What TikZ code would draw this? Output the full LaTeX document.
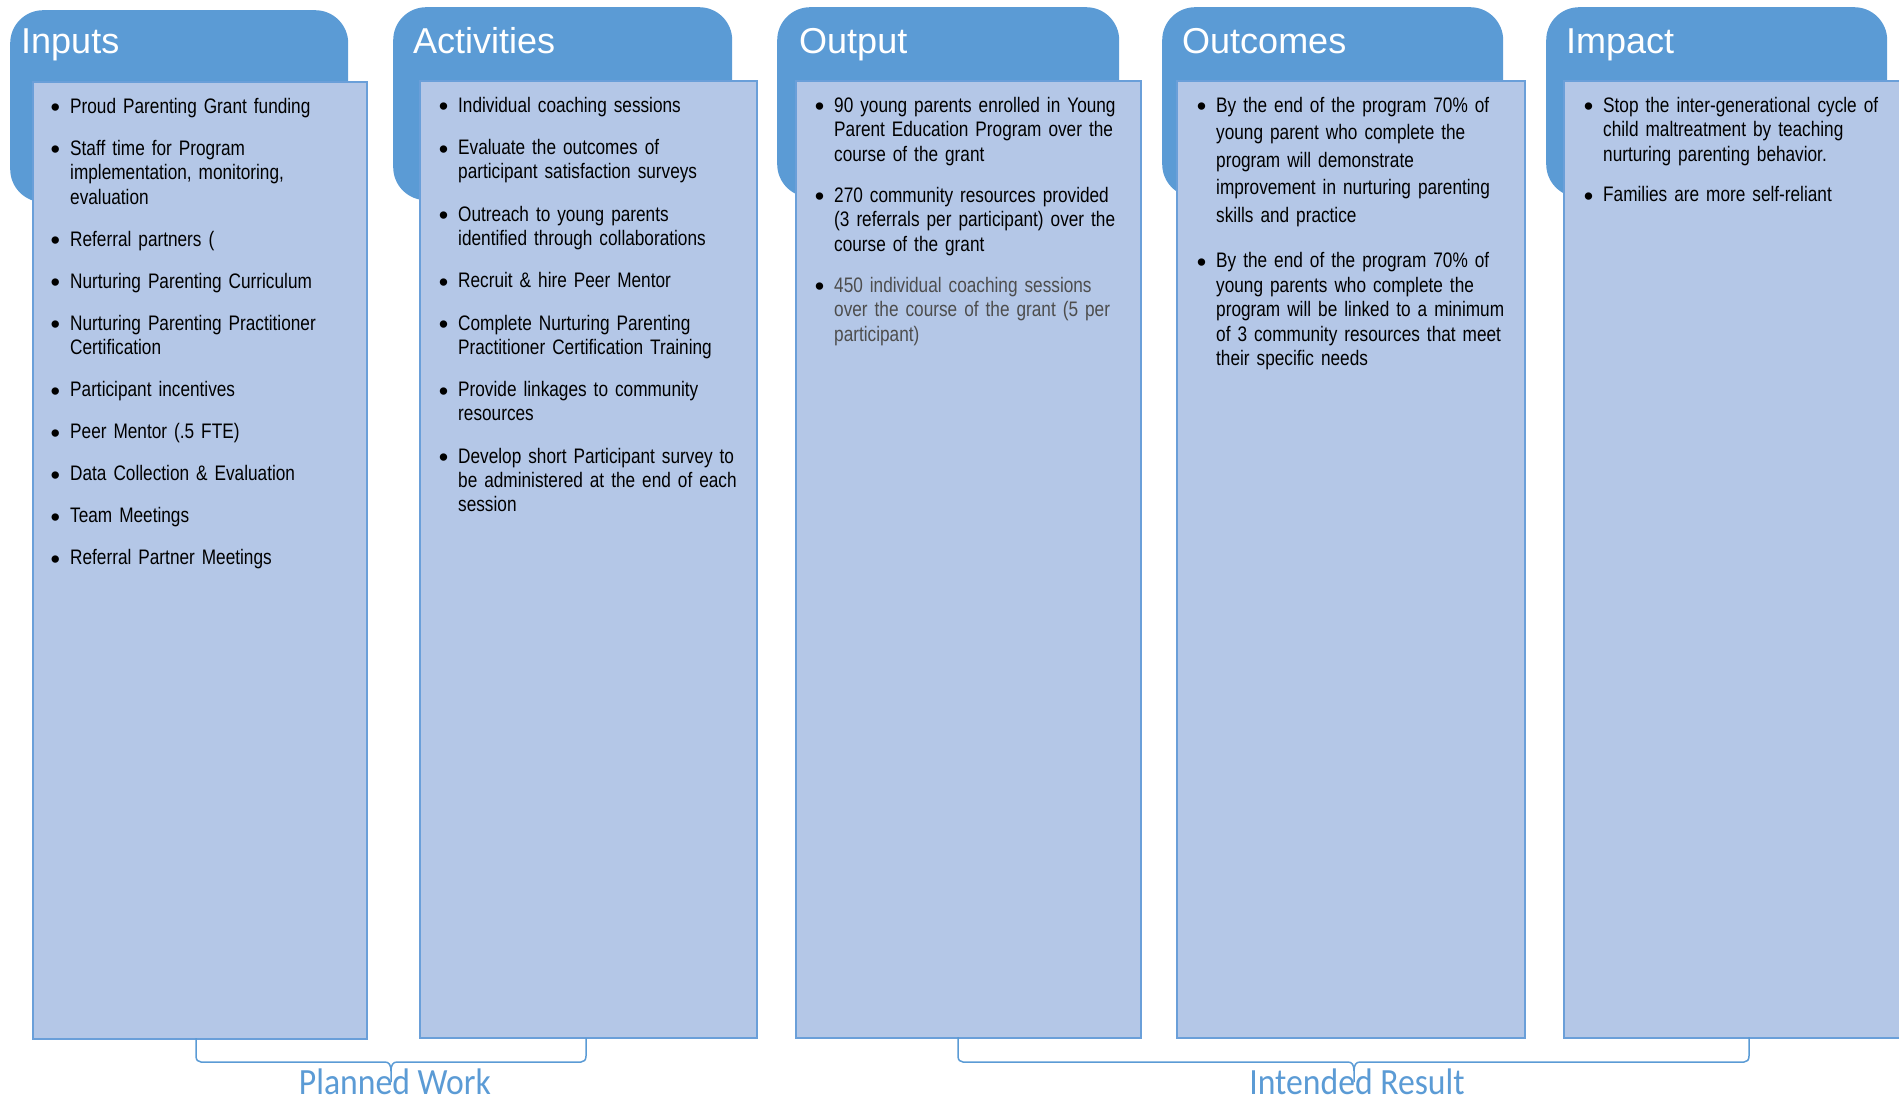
\documentclass[tikz,border=0pt]{standalone}
\usepackage{fontspec}
\newfontfamily\bodyfont[FakeStretch=0.82,WordSpace=0.7]{Liberation Sans}
\newfontfamily\titlefont{Liberation Sans}
\newfontfamily\bulletfont{Liberation Sans}
\newfontfamily\labelfont[FakeStretch=0.91]{Carlito}
\definecolor{hdrblue}{HTML}{5B9BD5}
\definecolor{boxfill}{HTML}{B4C7E7}
\definecolor{boxline}{HTML}{6A9FD9}
\definecolor{graytext}{HTML}{4D4D4D}
\newcommand{\bitem}[2][24.5pt]{{\fontsize{21pt}{#1}\selectfont\noindent\llap{\raisebox{-3.5pt}{\bulletfont\fontsize{27pt}{27pt}\selectfont\textbullet}\hspace{10pt}}#2\par}}
\newcommand{\firststrut}{\rule{0pt}{18pt}}
\tikzset{
  hdr/.style={fill=hdrblue, rounded corners=33pt, anchor=north west, inner sep=0pt},
  cbox/.style={fill=boxfill, draw=boxline, line width=1.5pt, anchor=north west, inner sep=0pt},
  title/.style={anchor=base west, inner sep=0pt, text=white, font=\titlefont\fontsize{36pt}{40pt}\selectfont},
  body/.style={anchor=north west, inner sep=0pt, text width=340pt, align=left, font=\bodyfont\fontsize{21pt}{24.5pt}\selectfont},
  bracel/.style={draw=hdrblue, line width=1.5pt},
  lbl/.style={anchor=base, inner sep=0pt, text depth=0pt, text=hdrblue, font=\labelfont\fontsize{37pt}{40pt}\selectfont}
}
\begin{document}
\begin{tikzpicture}[x=1pt, y=-1pt]
\useasboundingbox (0,0) rectangle (1899,1103);
% headers
\node[hdr, minimum width=338pt, minimum height=192pt] (h1) at (10,10) {};
\node[hdr, minimum width=339pt, minimum height=193pt] (h2) at (393,7) {};
\node[hdr, minimum width=342pt, minimum height=190pt] (h3) at (777,7) {};
\node[hdr, minimum width=341pt, minimum height=190pt] (h4) at (1162,7) {};
\node[hdr, minimum width=341pt, minimum height=190pt] (h5) at (1546,7) {};
% content boxes
\node[cbox, minimum width=334pt, minimum height=957pt] (b1) at (32,81) {};
\node[cbox, minimum width=337pt, minimum height=957pt] (b2) at (419,80) {};
\node[cbox, minimum width=345pt, minimum height=957pt] (b3) at (795,80) {};
\node[cbox, minimum width=348pt, minimum height=957pt] (b4) at (1176,80) {};
\node[cbox, minimum width=360pt, minimum height=957pt] (b5) at (1563,80) {};
% titles
\node[title] (t1) at (21,53) {Inputs};
\node[title] (t2) at (413,53) {Activities};
\node[title] (t3) at (799,53) {Output};
\node[title] (t4) at (1182,53) {Outcomes};
\node[title] (t5) at (1566,53) {Impact};
% body texts
\node[body] (x1) at (70,95) {%
\bitem{\firststrut Proud Parenting Grant funding}\vspace{17.5pt}
\bitem{Staff time for Program\\implementation, monitoring,\\evaluation}\vspace{17.5pt}
\bitem{Referral partners (}\vspace{17.5pt}
\bitem{Nurturing Parenting Curriculum}\vspace{17.5pt}
\bitem{Nurturing Parenting Practitioner\\Certification}\vspace{17.5pt}
\bitem{Participant incentives}\vspace{17.5pt}
\bitem{Peer Mentor (.5 FTE)}\vspace{17.5pt}
\bitem{Data Collection \& Evaluation}\vspace{17.5pt}
\bitem{Team Meetings}\vspace{17.5pt}
\bitem{Referral Partner Meetings}};
\node[body] (x2) at (458,94) {%
\bitem[24pt]{\firststrut Individual coaching sessions}\vspace{18.5pt}
\bitem[24pt]{Evaluate the outcomes of\\participant satisfaction surveys}\vspace{18.5pt}
\bitem[24pt]{Outreach to young parents\\identified through collaborations}\vspace{18.5pt}
\bitem[24pt]{Recruit \& hire Peer Mentor}\vspace{18.5pt}
\bitem[24pt]{Complete Nurturing Parenting\\Practitioner Certification Training}\vspace{18.5pt}
\bitem[24pt]{Provide linkages to community\\resources}\vspace{18.5pt}
\bitem[24pt]{Develop short Participant survey to\\be administered at the end of each\\session}};
\node[body] (x3) at (834,94) {%
\bitem{\firststrut 90 young parents enrolled in Young\\Parent Education Program over the\\course of the grant}\vspace{16.5pt}
\bitem{270 community resources provided\\(3 referrals per participant) over the\\course of the grant}\vspace{16.5pt}
\bitem{\color{graytext}450 individual coaching sessions\\over the course of the grant (5 per\\participant)}};
\node[body] (x4) at (1216,94) {%
\bitem[27.5pt]{\firststrut By the end of the program 70\% of\\young parent who complete the\\program will demonstrate\\improvement in nurturing parenting\\skills and practice}\vspace{21pt}
\bitem{By the end of the program 70\% of\\young parents who complete the\\program will be linked to a minimum\\of 3 community resources that meet\\their specific needs}};
\node[body] (x5) at (1603,94) {%
\bitem[24.5pt]{\firststrut Stop the inter-generational cycle of\\child maltreatment by teaching\\nurturing parenting behavior.}\vspace{15.5pt}
\bitem[25pt]{Families are more self-reliant}};
% braces
\coordinate (pwL) at (196,1038);
\coordinate (pwR) at (586,1038);
\coordinate (pwT) at (391,1082);
\draw[bracel] (pwL) -- (196,1056) .. controls (196,1060) and (198,1062) .. (201,1062) -- (385,1062) .. controls (389,1062) and (391,1065) .. (391,1071) -- (pwT);
\draw[bracel] (391,1071) .. controls (391,1065) and (393,1062) .. (397,1062) -- (581,1062) .. controls (584,1062) and (586,1060) .. (586,1056) -- (pwR);
\coordinate (irL) at (958,1037);
\coordinate (irR) at (1749,1037);
\coordinate (irT) at (1354,1082);
\draw[bracel] (irL) -- (958,1056) .. controls (958,1060) and (960,1062) .. (963,1062) -- (1348,1062) .. controls (1352,1062) and (1354,1065) .. (1354,1071) -- (irT);
\draw[bracel] (1354,1071) .. controls (1354,1065) and (1356,1062) .. (1360,1062) -- (1744,1062) .. controls (1747,1062) and (1749,1060) .. (1749,1056) -- (irR);
\node[lbl] (pw) at (395,1094) {Planned Work};
\node[lbl] (ir) at (1357,1094) {Intended Result};
\end{tikzpicture}
\end{document}
